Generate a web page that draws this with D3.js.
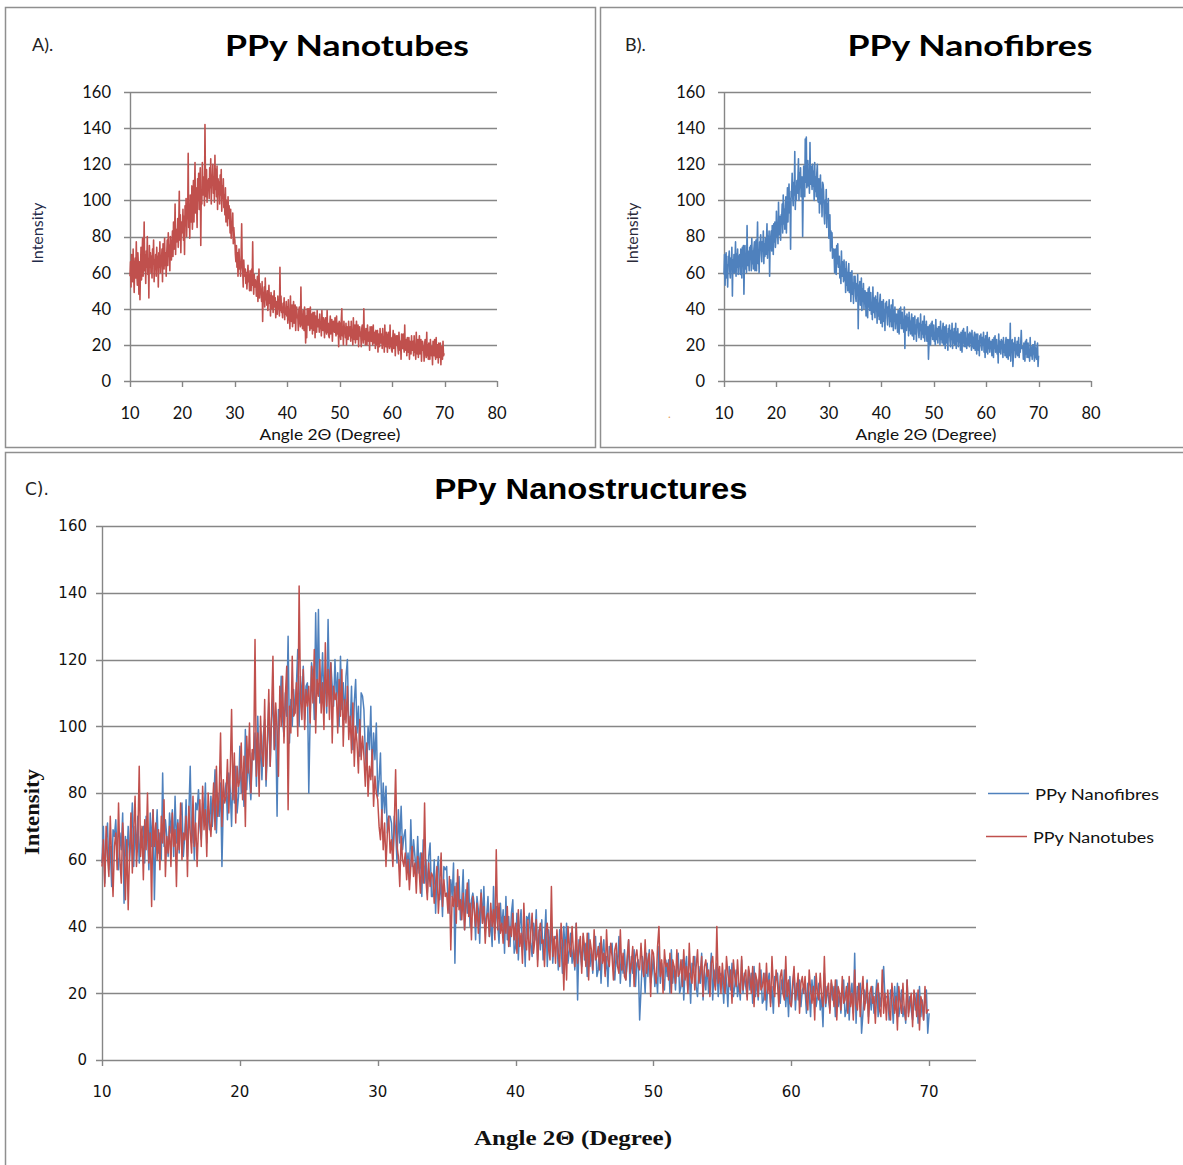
<!DOCTYPE html>
<html>
<head>
<meta charset="utf-8">
<script src="https://cdn.jsdelivr.net/npm/d3@7"></script>
<style>
  html, body { margin: 0; padding: 0; background: #fff; }
  svg { display: block; }
</style>
</head>
<body>
<svg id="chart" width="1183" height="1165"></svg>
<script>
// ---------------- DATA ----------------
const angleStart = 10;   // first sample, degrees 2θ
const angleStep = 0.1;   // sample spacing, degrees 2θ

// PPy Nanotubes intensity, one row per degree (10.0 … 69.9), then 70.0
const nanotubes = [
  58,66,52,70,61,55,73,60,49,64,
  68,57,77,60,53,71,64,48,66,45,
  62,74,56,69,79,58,66,88,61,70,
  54,72,63,80,59,68,46,75,64,71,
  60,69,57,73,65,78,55,67,62,70,
  58,74,64,69,52,71,63,77,60,68,
  66,73,55,76,68,62,79,64,71,58,
  70,78,64,82,69,75,61,80,72,67,
  75,83,69,88,73,80,98,70,84,77,
  79,90,74,86,105,78,92,71,88,82,
  84,95,78,91,70,97,86,101,80,93,
  90,126,85,98,79,103,92,88,108,84,
  96,111,88,104,121,93,107,99,85,112,
  100,115,95,109,118,75,106,98,121,103,
  104,113,97,142,108,102,117,99,111,106,
  112,101,118,107,123,98,114,109,120,104,
  113,99,125,106,117,102,119,95,112,108,
  110,98,114,103,117,94,108,101,112,96,
  103,92,107,88,100,95,86,102,90,97,
  91,82,95,79,88,84,93,76,85,80,
  78,70,66,75,63,71,58,68,73,62,
  66,58,70,87,64,61,52,67,60,58,
  62,54,60,51,58,64,55,59,50,61,
  57,50,62,53,77,54,48,59,52,56,
  55,47,53,58,44,52,62,46,54,49,
  50,44,55,33,49,46,52,41,57,45,
  48,42,50,39,46,53,43,47,36,49,
  45,40,47,38,44,50,41,46,35,43,
  44,37,47,40,45,36,63,39,47,38,
  41,35,43,38,46,34,40,37,44,36,
  41,32,45,34,38,29,47,36,33,42,
  30,38,44,32,36,42,28,38,41,35,
  36,28,39,41,33,30,52,31,37,29,
  39,32,28,41,35,21,36,24,40,34,
  31,40,32,28,41,29,34,37,26,38,
  34,28,38,24,36,33,27,39,30,31,
  34,27,37,29,32,25,39,30,28,35,
  31,24,33,35,28,26,39,27,32,25,
  24,31,36,26,29,34,22,31,33,28,
  27,35,28,25,36,26,30,32,19,33,
  32,26,23,34,40,25,30,20,33,28,
  29,24,32,20,30,28,23,33,25,26,
  30,22,33,24,28,20,35,25,23,31,
  21,28,33,23,26,31,19,28,30,25,
  27,19,29,31,24,21,40,23,28,20,
  29,23,20,31,26,22,27,17,30,25,
  22,30,23,20,31,21,25,27,18,28,
  25,20,28,16,26,24,19,29,21,22,
  26,18,29,20,24,16,31,22,19,27,
  23,16,25,27,20,18,31,19,24,17,
  16,23,28,18,21,26,14,23,25,20,
  25,18,15,27,21,17,22,12,26,20,
  18,26,19,16,31,17,21,23,14,24,
  21,16,24,12,22,20,15,25,17,18,
  22,14,25,16,20,12,27,17,15,23,
  13,20,25,15,18,23,11,20,22,17,
  19,11,21,23,15,13,27,14,20,12,
  21,15,12,23,18,14,19,9,22,17,
  14,23,15,12,24,13,17,20,10,21,
  18,13,21,9,19,17,12,22,14,15,
  15
];

// PPy Nanofibres intensity, same angles
const nanofibres = [
  59,70,53,66,71,57,64,52,69,67,
  72,61,57,68,63,74,47,67,60,70,
  60,67,77,58,70,63,73,59,67,69,
  70,59,73,68,57,74,64,75,48,66,
  75,62,68,60,86,64,72,67,61,74,
  68,75,61,79,65,72,62,73,77,61,
  67,78,61,74,88,65,72,60,77,75,
  81,70,66,77,72,83,65,76,69,79,
  70,77,87,68,80,73,83,58,77,79,
  83,72,86,81,70,87,77,88,74,79,
  94,80,86,76,99,81,91,84,78,92,
  90,98,82,103,87,95,84,97,102,82,
  94,107,88,102,109,93,101,73,105,104,
  115,102,97,110,103,127,95,108,100,111,
  104,112,123,100,115,107,118,102,112,113,
  80,103,119,115,102,134,110,135,107,111,
  122,108,114,104,132,109,119,112,106,120,
  108,116,100,121,105,113,102,115,120,100,
  99,112,93,107,114,98,106,91,110,109,
  105,92,87,100,93,106,85,98,90,101,
  79,84,92,72,83,74,82,68,73,73,
  71,60,73,69,59,75,65,76,63,67,
  69,57,62,54,72,58,66,61,55,67,
  56,62,49,66,53,60,50,61,65,49,
  49,60,44,56,61,48,54,43,58,57,
  58,47,44,54,49,59,29,53,46,55,
  42,48,57,39,51,44,54,40,48,50,
  47,36,49,45,35,51,41,52,39,43,
  49,37,42,34,52,38,46,41,35,47,
  39,45,32,49,36,43,34,44,48,32,
  34,44,30,40,45,33,39,28,43,42,
  44,35,31,41,36,45,30,39,33,42,
  30,36,45,28,39,33,41,29,36,37,
  36,27,39,35,26,40,32,41,29,33,
  38,29,33,27,41,18,36,32,28,37,
  30,35,25,38,28,33,26,34,37,25,
  27,35,23,32,36,26,31,22,34,33,
  35,27,24,32,28,37,23,31,26,33,
  24,29,36,22,31,26,33,22,29,30,
  12,21,31,28,20,32,25,33,23,26,
  31,22,26,20,34,23,29,25,21,30,
  25,30,20,33,23,28,21,29,32,20,
  22,30,18,27,31,21,26,17,29,28,
  31,22,19,28,23,32,18,27,21,29,
  20,25,32,18,27,22,29,19,25,26,
  25,17,27,24,16,28,21,29,19,22,
  27,19,23,18,30,20,26,22,19,27,
  21,26,17,28,19,24,18,25,27,17,
  18,26,15,23,26,17,22,14,25,24,
  26,19,17,24,20,27,16,23,13,25,
  16,21,27,15,23,18,24,16,21,22,
  21,14,23,20,13,24,18,25,16,19,
  23,15,19,10,26,16,22,18,15,23,
  18,22,13,24,16,20,14,21,24,13,
  15,23,12,20,23,14,32,11,22,21,
  23,8,14,21,17,24,13,20,15,22,
  14,18,24,13,20,16,21,28,18,19,
  19,12,21,18,11,22,15,23,13,16,
  21,13,16,11,24,14,19,15,12,20,
  15,20,11,22,13,18,12,19,21,8,
  14
];

const xTicksSmall = [10, 20, 30, 40, 50, 60, 70, 80];
const xTicksBig = [10, 20, 30, 40, 50, 60, 70];
const yTicks = [0, 20, 40, 60, 80, 100, 120, 140, 160];

const titleA = "PPy Nanotubes";
const titleB = "PPy Nanofibres";
const titleC = "PPy Nanostructures";
const xTitle = "Angle 2\u0398 (Degree)";
const yTitle = "Intensity";
const legendNames = ["PPy Nanofibres", "PPy Nanotubes"];

// ---------------- STYLE ----------------
const RED = "#C0504D";
const BLUE = "#4F81BD";
const GRID = "#868686";
const FRAME = "#8f8f8f";
const CAL = "Lato, 'Open Sans', sans-serif";

const svg = d3.select("#chart");
svg.append("rect").attr("width", 1183).attr("height", 1165).attr("fill", "#fff");

function panel(cfg) {
  const g = svg.append("g");
  g.append("rect")
    .attr("x", cfg.frame[0]).attr("y", cfg.frame[1])
    .attr("width", cfg.frame[2]).attr("height", cfg.frame[3])
    .attr("fill", "none").attr("stroke", FRAME).attr("stroke-width", 1.5);

  const x = d3.scaleLinear().domain(cfg.xDomain).range(cfg.xRange);
  const y = d3.scaleLinear().domain([0, 160]).range(cfg.yRange);
  const xEnd = cfg.xRange[1];

  g.selectAll(".grid").data(yTicks).join("line")
    .attr("x1", cfg.xRange[0] - 6).attr("x2", xEnd)
    .attr("y1", d => Math.round(y(d)) + 0.5).attr("y2", d => Math.round(y(d)) + 0.5)
    .attr("stroke", GRID).attr("stroke-width", 1.4);

  g.append("line")
    .attr("x1", Math.round(cfg.xRange[0]) + 0.5).attr("x2", Math.round(cfg.xRange[0]) + 0.5)
    .attr("y1", y(160)).attr("y2", y(0))
    .attr("stroke", GRID).attr("stroke-width", 1.4);

  g.selectAll(".xt").data(cfg.xTicks).join("line")
    .attr("x1", d => Math.round(x(d)) + 0.5).attr("x2", d => Math.round(x(d)) + 0.5)
    .attr("y1", y(0)).attr("y2", y(0) + 6)
    .attr("stroke", GRID).attr("stroke-width", 1.4);

  g.selectAll(".yl").data(yTicks).join("text")
    .attr("x", cfg.xRange[0] - cfg.yLabelGap).attr("y", d => y(d))
    .attr("dy", "0.36em").attr("text-anchor", "end")
    .style("font-family", cfg.tickFont).style("font-size", cfg.tickSize + "px")
    .attr("fill", "#111")
    .text(d => d);

  g.selectAll(".xl").data(cfg.xTicks).join("text")
    .attr("x", d => x(d)).attr("y", y(0) + cfg.xLabelGap)
    .attr("dy", "0.36em").attr("text-anchor", "middle")
    .style("font-family", cfg.tickFont).style("font-size", cfg.tickSize + "px")
    .attr("fill", "#111")
    .text(d => d);

  const line = d3.line()
    .x((d, i) => x(angleStart + i * angleStep))
    .y(d => y(d));
  cfg.series.forEach(s => {
    g.append("path").datum(s.values)
      .attr("d", line)
      .attr("fill", "none").attr("stroke", s.color)
      .attr("stroke-width", cfg.lineWidth).attr("stroke-linejoin", "round");
  });

  g.append("text")
    .attr("x", cfg.title.x).attr("y", cfg.title.y).attr("dy", "0.35em")
    .attr("text-anchor", "middle")
    .style("font-family", cfg.title.font).style("font-weight", "bold")
    .style("font-size", cfg.title.size + "px")
    .attr("textLength", cfg.title.len).attr("lengthAdjust", "spacingAndGlyphs")
    .attr("fill", "#000")
    .text(cfg.title.text);

  g.append("text")
    .attr("x", cfg.letter.x).attr("y", cfg.letter.y).attr("dy", "0.35em")
    .style("font-family", cfg.letter.font).style("font-size", cfg.letter.size + "px")
    .attr("fill", "#222")
    .text(cfg.letter.text);

  g.append("text")
    .attr("x", cfg.xt.x).attr("y", cfg.xt.y).attr("dy", "0.35em")
    .attr("text-anchor", "middle")
    .style("font-family", cfg.xt.font).style("font-size", cfg.xt.size + "px")
    .style("font-weight", cfg.xt.weight)
    .attr("textLength", cfg.xt.len).attr("lengthAdjust", "spacingAndGlyphs")
    .attr("fill", "#111")
    .text(xTitle);

  g.append("text")
    .attr("transform", `translate(${cfg.yt.x},${cfg.yt.y}) rotate(-90)`)
    .attr("dy", "0.35em").attr("text-anchor", "middle")
    .style("font-family", cfg.yt.font).style("font-size", cfg.yt.size + "px")
    .style("font-weight", cfg.yt.weight)
    .attr("textLength", cfg.yt.len).attr("lengthAdjust", "spacingAndGlyphs")
    .attr("fill", cfg.yt.color)
    .text(yTitle);

  return { g, x, y };
}

// Panel A
panel({
  frame: [5.5, 7.5, 590, 440],
  xDomain: [10, 80], xRange: [130, 497], yRange: [381, 92],
  xTicks: xTicksSmall,
  tickFont: CAL, tickSize: 16.5, yLabelGap: 19, xLabelGap: 32,
  lineWidth: 1.6,
  series: [{ values: nanotubes, color: RED }],
  title: { text: titleA, x: 347, y: 46, size: 29, font: CAL, len: 244 },
  letter: { text: "A).", x: 32, y: 45, size: 18, font: CAL },
  xt: { x: 330, y: 435, size: 15.5, font: CAL, weight: "normal", len: 141 },
  yt: { x: 38, y: 233, size: 15, font: CAL, weight: "normal", len: 61, color: "#1F2B4A" }
});

// Panel B
panel({
  frame: [600.5, 7.5, 600, 440],
  xDomain: [10, 80], xRange: [724, 1091], yRange: [381, 92],
  xTicks: xTicksSmall,
  tickFont: CAL, tickSize: 16.5, yLabelGap: 19, xLabelGap: 32,
  lineWidth: 1.6,
  series: [{ values: nanofibres, color: BLUE }],
  title: { text: titleB, x: 970, y: 46, size: 29, font: CAL, len: 245 },
  letter: { text: "B).", x: 625, y: 45, size: 18, font: CAL },
  xt: { x: 926, y: 435, size: 15.5, font: CAL, weight: "normal", len: 141 },
  yt: { x: 633, y: 233, size: 15, font: CAL, weight: "normal", len: 61, color: "#2A2A3A" }
});
svg.append("text").attr("x", 668).attr("y", 418)
  .style("font-family", CAL).style("font-size", "12px").attr("fill", "#E8A060").text(".");

// Panel C
panel({
  frame: [5.5, 452.5, 1200, 720],
  xDomain: [10, 73.4], xRange: [102, 976], yRange: [1060, 526],
  xTicks: xTicksBig,
  tickFont: "'DejaVu Sans', Verdana, sans-serif", tickSize: 15, yLabelGap: 15, xLabelGap: 32,
  lineWidth: 1.5,
  series: [{ values: nanofibres, color: BLUE }, { values: nanotubes, color: RED }],
  title: { text: titleC, x: 591, y: 488, size: 30, font: "'Liberation Sans', Arial, sans-serif", len: 313 },
  letter: { text: "C).", x: 25, y: 489, size: 17, font: "'DejaVu Sans', Verdana, sans-serif" },
  xt: { x: 573, y: 1138, size: 21, font: "'Liberation Serif', 'Times New Roman', serif", weight: "bold", len: 198 },
  yt: { x: 32, y: 812, size: 21, font: "'Liberation Serif', 'Times New Roman', serif", weight: "bold", len: 86, color: "#111" }
});

// Legend for panel C
const legend = svg.append("g");
const legendColors = [BLUE, RED];
const legendRows = legendNames.map((n, i) => ({ name: n, color: legendColors[i], i }));
legend.selectAll("line").data(legendRows).join("line")
  .attr("x1", d => 988 - d.i * 2).attr("x2", d => 1029 - d.i * 2)
  .attr("y1", d => 793.5 + d.i * 43).attr("y2", d => 793.5 + d.i * 43)
  .attr("stroke", d => d.color).attr("stroke-width", 1.5);
legend.selectAll("text").data(legendRows).join("text")
  .attr("x", d => 1035 - d.i * 2).attr("y", d => 794 + d.i * 43).attr("dy", "0.35em")
  .style("font-family", CAL).style("font-size", "16px")
  .attr("textLength", d => d.i === 0 ? 124 : 121).attr("lengthAdjust", "spacingAndGlyphs")
  .attr("fill", "#111")
  .text(d => d.name);
</script>
</body>
</html>
